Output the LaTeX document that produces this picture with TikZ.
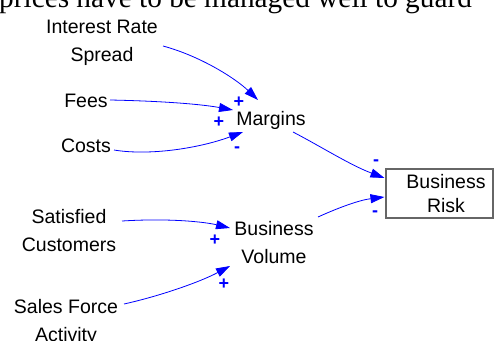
\documentclass[tikz,border=0pt]{standalone}
\usepackage{fontspec}
\setmainfont{Liberation Sans}
\newfontfamily\serifpart{Liberation Serif}
\usetikzlibrary{arrows.meta}
\begin{document}
\begin{tikzpicture}[x=1pt,y=-1pt,
 lbl/.style={anchor=base,align=center,inner sep=0pt,font=\fontsize{19.5}{28}\selectfont},
 sgn/.style={text=blue,inner sep=0pt,font=\fontsize{18}{18}\selectfont\bfseries},
 lnk/.style={draw=blue,line width=0.8pt,-{Triangle[length=14pt,width=9pt]}},
 riskbox/.style={draw=black!60,line width=1.1pt,align=center,minimum width=107pt,minimum height=49pt,inner xsep=7pt,font=\fontsize{19.5}{24}\selectfont}]
\useasboundingbox (0,0) rectangle (494,340);
\begin{scope}
\clip (0,0) rectangle (494,340);
\node[anchor=base west,inner sep=0pt,font=\serifpart\fontsize{29.3}{29.3}\selectfont] (top) at (-1,7.5) {prices have to be managed well to guard};
\node[lbl] (isr) at (102,61) {Interest Rate\\Spread};
\node[lbl] (fees) at (86,107) {Fees};
\node[lbl] (costs) at (86,152) {Costs};
\node[lbl] (margins) at (271,125) {Margins};
\node[lbl] (sat) at (69,251) {Satisfied\\Customers};
\node[lbl] (bv) at (274,263) {Business\\Volume};
\node[lbl] (sales) at (66,341) {Sales Force\\Activity};
\node[riskbox] (risk) at (439.5,193.5) {\hspace*{13pt}Business\\\hspace*{13pt}Risk};

\draw[lnk] ([shift={(61,-15)}]isr.base) .. controls (200,56) and (235,78) .. ([shift={(-13,-25)}]margins.base);
\draw[lnk] ([shift={(24,-7)}]fees.base) .. controls (160,101) and (200,104) .. ([shift={(-38,-15)}]margins.base);
\draw[lnk] ([shift={(28,-2)}]costs.base) .. controls (150,156) and (200,148) .. ([shift={(-28,7)}]margins.base);
\draw[lnk] ([shift={(22,7)}]margins.base) .. controls (320,146) and (350,165) .. ([shift={(-1,-15.5)}]risk.west);
\draw[lnk] ([shift={(44,-46)}]bv.base) .. controls (340,207) and (360,200) .. ([shift={(-1,3.5)}]risk.west);
\draw[lnk] ([shift={(53,-30)}]sat.base) .. controls (170,218) and (205,222) .. ([shift={(-44,-35)}]bv.base);
\draw[lnk] ([shift={(58,-37)}]sales.base) .. controls (160,296) and (200,282) .. ([shift={(-44,3)}]bv.base);

\node[sgn] (s1) at (239,102) {+};
\node[sgn] (s2) at (219,122) {+};
\node[sgn] (s3) at (237,150) {-};
\node[sgn] (s4) at (376,163) {-};
\node[sgn] (s5) at (375,214) {-};
\node[sgn] (s6) at (215,240) {+};
\node[sgn] (s7) at (224,284) {+};
\end{scope}
\end{tikzpicture}
\end{document}
